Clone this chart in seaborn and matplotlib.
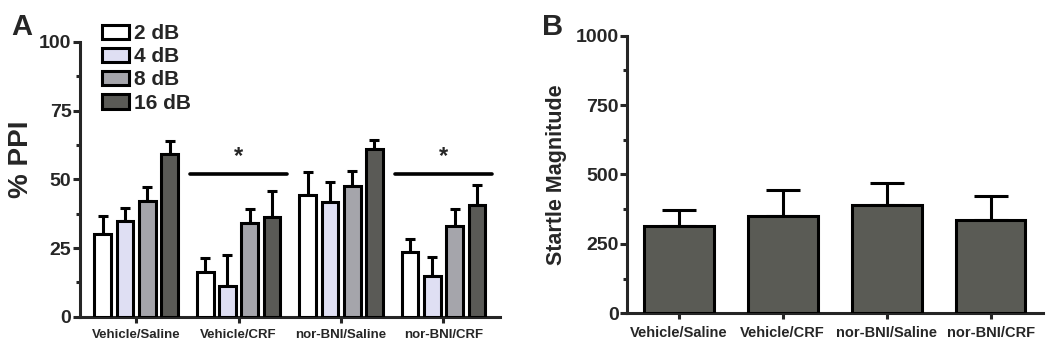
import numpy as np
import pandas as pd
import seaborn as sns
from matplotlib import pyplot as plt
from matplotlib.ticker import MultipleLocator

groups = ["Vehicle/Saline", "Vehicle/CRF", "nor-BNI/Saline", "nor-BNI/CRF"]
levels = ["2 dB", "4 dB", "8 dB", "16 dB"]

ppi_2db = [30.1, 16.4, 44.3, 23.4]
ppi_4db = [34.7, 11.2, 41.9, 14.8]
ppi_8db = [42.2, 34.2, 47.6, 33.0]
ppi_16db = [59.2, 36.4, 61.0, 40.7]
sem_2db = [6.4, 4.9, 8.5, 4.9]
sem_4db = [4.9, 11.3, 7.3, 7.1]
sem_8db = [4.9, 4.9, 5.6, 6.1]
sem_16db = [4.6, 9.5, 3.3, 7.3]

startle = [316, 350, 390, 335]
startle_sem = [56, 93, 79, 88]

# groups that differ from vehicle/saline
sig_groups = ["Vehicle/CRF", "nor-BNI/CRF"]
sig_y = 51.8

level_colors = ["#ffffff", "#dcdcf6", "#a4a4ac", "#5a5b55"]
startle_color = "#5a5b55"

ppi_vals = [ppi_2db, ppi_4db, ppi_8db, ppi_16db]
ppi_sems = [sem_2db, sem_4db, sem_8db, sem_16db]
df_ppi = pd.DataFrame({
    "group": groups * len(levels),
    "level": np.repeat(levels, len(groups)),
    "ppi": np.concatenate(ppi_vals),
})
df_startle = pd.DataFrame({"group": groups, "startle": startle})

sns.set_style("ticks")
plt.rcParams["font.family"] = ["Liberation Sans", "DejaVu Sans"]
plt.rcParams["font.weight"] = "bold"
plt.rcParams["axes.labelweight"] = "bold"

LW = 2.2

fig = plt.figure(figsize=(10.5, 3.5), dpi=100)
ax1 = fig.add_axes([0.076, 0.095, 0.400, 0.785])
ax2 = fig.add_axes([0.597, 0.105, 0.396, 0.793])


def style_axis(ax):
    sns.despine(ax=ax)
    for s in ("left", "bottom"):
        ax.spines[s].set_linewidth(LW)
    ax.tick_params(axis="y", which="major", length=5, width=LW, labelsize=14, pad=1)
    ax.tick_params(axis="y", which="minor", length=3, width=LW)
    ax.tick_params(axis="x", length=4, width=LW, pad=5)


def add_errors(ax, container, errs, capsize):
    xs = [p.get_x() + p.get_width() / 2 for p in container.patches]
    ys = [p.get_height() for p in container.patches]
    ax.errorbar(xs, ys, yerr=[np.zeros(len(errs)), errs], fmt="none",
                ecolor="black", elinewidth=LW, capthick=LW,
                capsize=capsize, zorder=1)


# panel A
sns.barplot(data=df_ppi, x="group", y="ppi", hue="level", hue_order=levels,
            palette=level_colors, edgecolor="black", linewidth=LW,
            width=0.87, gap=0.25, errorbar=None, legend=False, ax=ax1,
            zorder=3)
bars1 = list(ax1.containers)
for cont, errs in zip(bars1, ppi_sems):
    add_errors(ax1, cont, errs, 3.4)

for g in sig_groups:
    i = groups.index(g)
    ax1.plot([i - 0.47, i + 0.47], [sig_y, sig_y], color="black", lw=2.6,
             solid_capstyle="round")
    ax1.text(i, sig_y + 2.2, "*", ha="center", va="bottom", fontsize=17,
             fontweight="bold")

ax1.set_xlim(-0.55, 3.55)
ax1.set_ylim(0, 100)
ax1.yaxis.set_major_locator(MultipleLocator(25))
ax1.yaxis.set_minor_locator(MultipleLocator(12.5))
ax1.set_xlabel("")
ax1.set_ylabel("% PPI", fontsize=20)
ax1.yaxis.set_label_coords(-0.11, 0.575)
style_axis(ax1)
ax1.tick_params(axis="x", labelsize=9.5)
ax1.legend(bars1, levels, loc="upper left",
           bbox_to_anchor=(0.052, 1.065), frameon=False, fontsize=15,
           handlelength=1.3, handleheight=0.7, handletextpad=0.25,
           labelspacing=0.2, borderpad=0, borderaxespad=0)

# panel B
sns.barplot(data=df_startle, x="group", y="startle", color=startle_color,
            saturation=1, edgecolor="black", linewidth=LW, width=0.67,
            errorbar=None, ax=ax2, zorder=3)
bars2 = list(ax2.containers)
add_errors(ax2, bars2[0], startle_sem, 12.5)
ax2.set_xlim(-0.5, 3.5)
ax2.set_ylim(0, 1000)
ax2.yaxis.set_major_locator(MultipleLocator(250))
ax2.yaxis.set_minor_locator(MultipleLocator(125))
ax2.set_xlabel("")
ax2.set_ylabel("Startle Magnitude", fontsize=15.5, labelpad=6)
style_axis(ax2)
ax2.tick_params(axis="x", labelsize=10.5)

fig.text(0.011, 0.9, "A", fontsize=21, fontweight="bold")
fig.text(0.516, 0.9, "B", fontsize=21, fontweight="bold")

fig.savefig("out.png", dpi=100)
